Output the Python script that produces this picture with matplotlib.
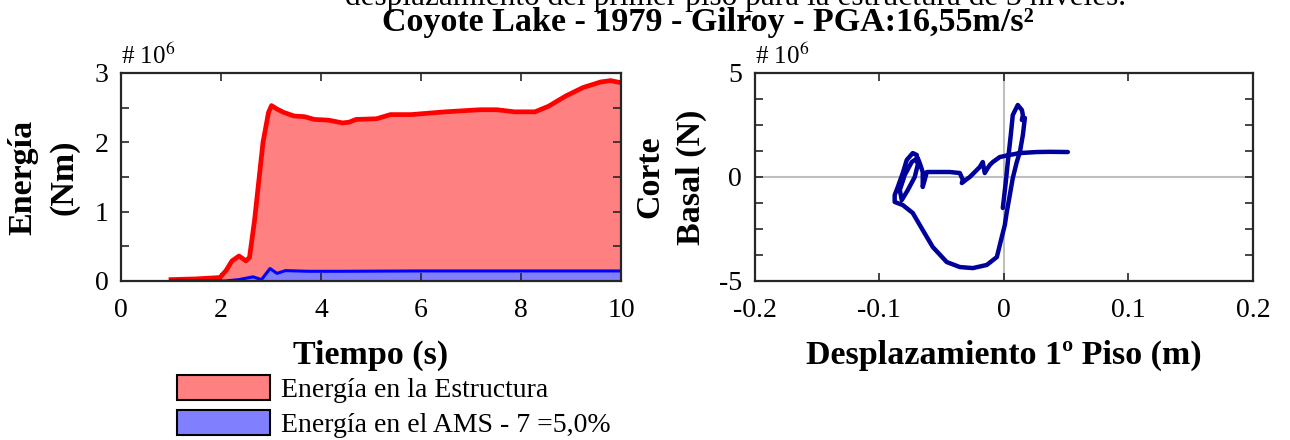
import numpy as np
import matplotlib
matplotlib.use("Agg")
import matplotlib.pyplot as plt
from matplotlib.patches import Patch
from matplotlib.ticker import MultipleLocator

plt.rcParams['font.family'] = ['Liberation Serif', 'DejaVu Serif']
plt.rcParams['mathtext.fontset'] = 'stix'

# Energía en la estructura (x 10^6 Nm)
t_est = [1.0, 1.5, 1.98, 2.1, 2.22, 2.36, 2.5, 2.57, 2.67, 2.84, 2.95, 3.01, 3.12,
         3.26, 3.46, 3.67, 3.87, 4.15, 4.43, 4.56, 4.7, 5.11, 5.39, 5.8, 6.49,
         7.18, 7.52, 7.87, 8.28, 8.55, 8.9, 9.24, 9.59, 9.79, 10.0]
e_est = [0.02, 0.03, 0.05, 0.15, 0.29, 0.36, 0.29, 0.34, 0.87, 2.0, 2.43, 2.53, 2.48,
         2.43, 2.38, 2.37, 2.33, 2.32, 2.28, 2.29, 2.33, 2.34, 2.4, 2.4, 2.44,
         2.47, 2.47, 2.44, 2.44, 2.52, 2.67, 2.79, 2.87, 2.89, 2.86]

# Energía en el AMS (x 10^6 Nm)
t_ams = [1.0, 2.08, 2.36, 2.64, 2.81, 2.98, 3.12, 3.29, 3.74, 4.43, 6.0, 8.0, 10.0]
e_ams = [0.0, 0.0, 0.02, 0.06, 0.02, 0.18, 0.11, 0.15, 0.14, 0.14, 0.145, 0.145, 0.145]

# Lazo de histéresis: desplazamiento (m) y corte basal (x 10^6 N)
desp = [-0.0008, 0.0016, 0.0032, 0.0056, 0.0072, 0.0112, 0.0145, 0.0153, 0.0145,
        0.0169, 0.0153, 0.0129, 0.0104, 0.0072, 0.0048, 0.0024, 0.0008, -0.0016,
        -0.0056, -0.0137, -0.0249, -0.0353, -0.0458, -0.0570, -0.0651, -0.0731,
        -0.0811, -0.0876, -0.0876, -0.0851, -0.0811, -0.0779, -0.0731, -0.0699,
        -0.0691, -0.0715, -0.0771, -0.0819, -0.0835, -0.0795, -0.0739, -0.0691,
        -0.0675, -0.0651, -0.0651, -0.0635, -0.0618, -0.0538, -0.0434, -0.0353,
        -0.0329, -0.0337, -0.0305, -0.0273, -0.0233, -0.0193, -0.0169, -0.0153,
        -0.0129, -0.0112, -0.0088, -0.0032, 0.0048, 0.0129, 0.0265, 0.037, 0.0514]
corte = [-1.49, -0.24, 0.72, 2.02, 2.98, 3.46, 3.22, 2.98, 2.74,
         2.84, 2.02, 1.20, 0.72, -0.05, -0.87, -1.68, -2.31, -2.88,
         -3.85, -4.23, -4.38, -4.33, -4.09, -3.37, -2.55, -1.73,
         -1.35, -1.20, -0.87, -0.48, 0.19, 0.82, 1.15, 1.06,
         0.58, 0.0, -0.63, -1.11, -0.63, 0.10, 0.72, 0.91,
         0.67, 0.24, -0.48, -0.14, 0.24, 0.24, 0.24, 0.19,
         -0.14, -0.29, -0.14, 0.0, 0.24, 0.48, 0.72, 0.19,
         0.43, 0.58, 0.72, 0.96, 1.06, 1.15, 1.20, 1.21, 1.20]

fig = plt.figure(figsize=(12.9, 4.4), dpi=100)
ax1 = fig.add_axes([0.0938, 0.3614, 0.3876, 0.4727])
ax2 = fig.add_axes([0.585, 0.3614, 0.3863, 0.4727])

# --- energía ---
ax1.fill_between(t_est, 0, e_est, color=(1, 0.5, 0.5), lw=0)
ax1.fill_between(t_ams, 0, e_ams, color=(0.5, 0.5, 1), lw=0)
ax1.plot(t_est, e_est, color='red', lw=3.4, solid_joinstyle='round')
ax1.plot(t_ams, e_ams, color='blue', lw=2.2, solid_joinstyle='round')
ax1.set_xlim(0, 10)
ax1.set_ylim(0, 3)
ax1.xaxis.set_major_locator(MultipleLocator(2))
ax1.yaxis.set_major_locator(MultipleLocator(1))
ax1.yaxis.set_minor_locator(MultipleLocator(0.5))
ax1.set_xlabel('Tiempo (s)', fontsize=24.5, fontweight='bold', labelpad=12)
ax1.set_ylabel('Energía\n(Nm)', fontsize=24.5, fontweight='bold',
               linespacing=1.4, labelpad=11)
ax1.text(0, 1.02, '# 10$^{6}$', transform=ax1.transAxes, fontsize=18, va='bottom')

# --- histéresis ---
ax2.axhline(0, color='0.75', lw=1.5, zorder=0)
ax2.axvline(0, color='0.75', lw=1.5, zorder=0)
ax2.plot(desp, corte, color='#00009a', lw=3.2, solid_joinstyle='round',
         solid_capstyle='round')
ax2.set_xlim(-0.2, 0.2)
ax2.set_ylim(-5, 5)
ax2.xaxis.set_major_locator(MultipleLocator(0.1))
ax2.yaxis.set_major_locator(MultipleLocator(5))
ax2.yaxis.set_minor_locator(MultipleLocator(1.25))
ax2.xaxis.set_major_formatter(plt.FuncFormatter(lambda v, p: '0' if abs(v) < 1e-9 else f'{v:.1f}'))
ax2.yaxis.set_major_formatter(plt.FuncFormatter(lambda v, p: f'{v:.0f}'))
ax2.set_xlabel('Desplazamiento 1º Piso (m)', fontsize=24.5, fontweight='bold', labelpad=12)
ax2.set_ylabel('Corte\nBasal (N)', fontsize=24.5, fontweight='bold',
               linespacing=1.4, labelpad=9)
ax2.text(0, 1.02, '# 10$^{6}$', transform=ax2.transAxes, fontsize=18, va='bottom')

for ax in (ax1, ax2):
    for s in ax.spines.values():
        s.set_linewidth(1.6)
        s.set_color('0.15')
    ax.tick_params(which='both', direction='in', top=True, right=True,
                   labelsize=20, width=1.2, color='0.15', pad=12)
    ax.tick_params(which='major', length=6)
    ax.tick_params(which='minor', length=6)
    ax.tick_params(axis='y', pad=9)

# subtítulo recortado por el borde superior, como en el original
fig.text(0.57, 0.9895, 'desplazamiento del primer piso para la estructura de 3 niveles.',
         ha='center', va='baseline', fontsize=22.5)
fig.text(0.549, 0.948, 'Coyote Lake - 1979 - Gilroy - PGA:16,55m/s²',
         ha='center', va='center', fontsize=24.5, fontweight='bold')

handles = [Patch(facecolor=(1, 0.5, 0.5), edgecolor='black', lw=1.5),
           Patch(facecolor=(0.5, 0.5, 1), edgecolor='black', lw=1.5)]
fig.legend(handles, ['Energía en la Estructura', 'Energía en el AMS - 7 =5,0%'],
           loc='upper left', bbox_to_anchor=(0.137, 0.148), frameon=False,
           fontsize=20, handlelength=3.35, handleheight=1.0,
           handletextpad=0.4, labelspacing=0.25, borderpad=0, borderaxespad=0)

fig.savefig('out.png', dpi=100)
